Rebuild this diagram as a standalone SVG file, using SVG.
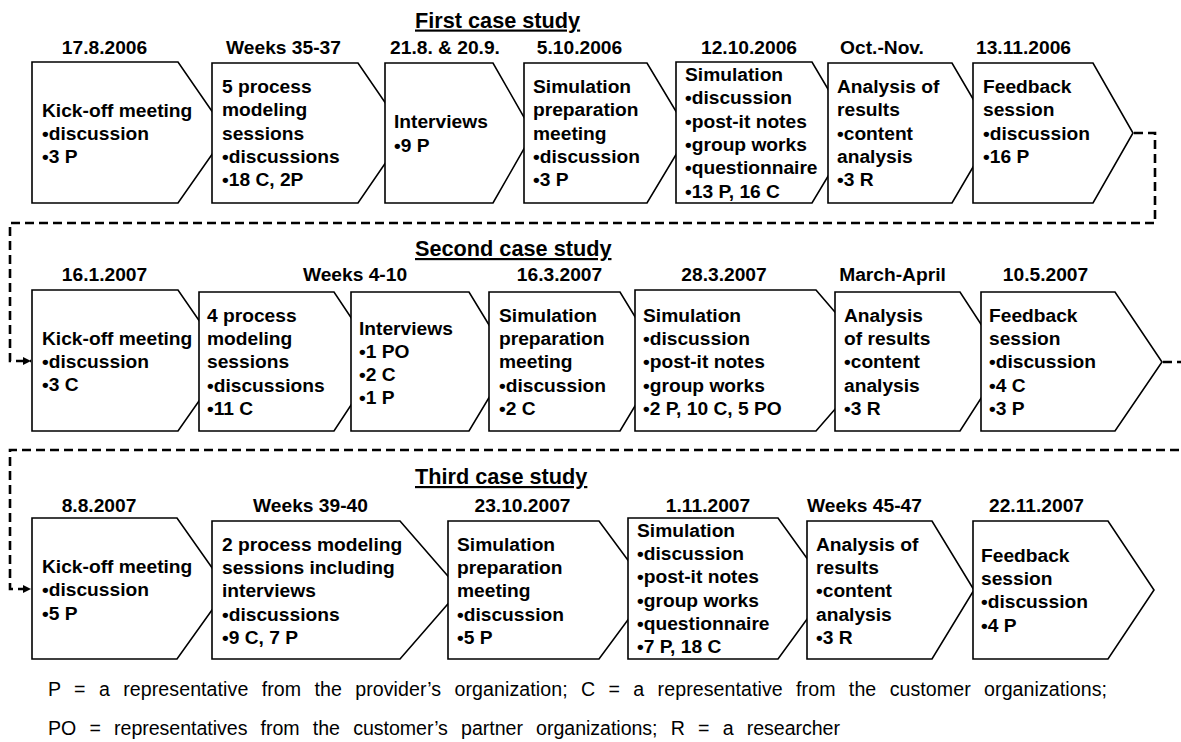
<svg xmlns="http://www.w3.org/2000/svg" width="1181" height="742" viewBox="0 0 1181 742">
<style>
  .box{fill:#fff;stroke:#000;stroke-width:1.6;stroke-linejoin:miter}
  text{font-family:"Liberation Sans",Arial,sans-serif;fill:#000}
  .t{font-size:19.2px;font-weight:bold}
  .d{font-size:19.2px;font-weight:bold;text-anchor:middle}
  .h{font-size:21.7px;font-weight:bold;text-decoration:underline}
  .lg{font-size:19.6px;word-spacing:7.8px}
  .dash{fill:none;stroke:#000;stroke-width:2.6;stroke-dasharray:9 5}
</style>
<defs>
  <marker id="arr" viewBox="0 0 10 10" refX="10" refY="5" markerWidth="3.2" markerHeight="3.2" orient="auto" markerUnits="strokeWidth">
    <path d="M0,0 L10,5 L0,10 z" fill="#000"/>
  </marker>
</defs>

<g id="titles">
  <text class="h" x="415" y="27.5">First case study</text>
  <text class="h" x="415" y="256">Second case study</text>
  <text class="h" x="415" y="484">Third case study</text>
</g>

<!-- Row 1 -->
<g id="c1-kickoff">
  <polygon class="box" points="32,62 178,62 227,133 178,203 32,203"/>
  <text class="d" x="104.5" y="54">17.8.2006</text>
  <text class="t"><tspan x="42" y="116.5">Kick-off meeting</tspan><tspan x="42" y="139.8">•discussion</tspan><tspan x="42" y="163">•3 P</tspan></text>
</g>
<g id="c1-modeling">
  <polygon class="box" points="212,63 358,63 406,133 358,203 212,203"/>
  <text class="d" x="283.5" y="54">Weeks 35-37</text>
  <text class="t"><tspan x="222" y="93">5 process</tspan><tspan x="222" y="116.3">modeling</tspan><tspan x="222" y="139.6">sessions</tspan><tspan x="222" y="162.9">•discussions</tspan><tspan x="222" y="186.2">•18 C, 2P</tspan></text>
</g>
<g id="c1-interviews">
  <polygon class="box" points="385,63 493,63 533,133 493,203 385,203"/>
  <text class="d" x="445" y="54">21.8. &amp; 20.9.</text>
  <text class="t"><tspan x="394" y="128.3">Interviews</tspan><tspan x="394" y="151.6">•9 P</tspan></text>
</g>
<g id="c1-prep">
  <polygon class="box" points="524,63 647,63 689,133 647,203 524,203"/>
  <text class="d" x="579.5" y="54">5.10.2006</text>
  <text class="t"><tspan x="533" y="93">Simulation</tspan><tspan x="533" y="116.3">preparation</tspan><tspan x="533" y="139.6">meeting</tspan><tspan x="533" y="162.9">•discussion</tspan><tspan x="533" y="186.2">•3 P</tspan></text>
</g>
<g id="c1-simulation">
  <polygon class="box" points="676,62 812,62 854,133 812,203 676,203"/>
  <text class="d" x="749" y="54">12.10.2006</text>
  <text class="t"><tspan x="685" y="81">Simulation</tspan><tspan x="685" y="104.3">•discussion</tspan><tspan x="685" y="127.6">•post-it notes</tspan><tspan x="685" y="150.9">•group works</tspan><tspan x="685" y="174.2">•questionnaire</tspan><tspan x="685" y="197.5">•13 P, 16 C</tspan></text>
</g>
<g id="c1-analysis">
  <polygon class="box" points="828,63 952,63 993,133 952,203 828,203"/>
  <text class="d" x="882" y="54">Oct.-Nov.</text>
  <text class="t"><tspan x="837" y="93">Analysis of</tspan><tspan x="837" y="116.3">results</tspan><tspan x="837" y="139.6">•content</tspan><tspan x="837" y="162.9">analysis</tspan><tspan x="837" y="186.2">•3 R</tspan></text>
</g>
<g id="c1-feedback">
  <polygon class="box" points="973,63 1093,63 1133,133 1093,203 973,203"/>
  <text class="d" x="1023.5" y="54">13.11.2006</text>
  <text class="t"><tspan x="983" y="93">Feedback</tspan><tspan x="983" y="116.3">session</tspan><tspan x="983" y="139.6">•discussion</tspan><tspan x="983" y="162.9">•16 P</tspan></text>
</g>

<!-- Row 2 -->
<g id="c2-kickoff">
  <polygon class="box" points="32,290 178,290 227,361 178,431 32,431"/>
  <text class="d" x="104.5" y="281">16.1.2007</text>
  <text class="t"><tspan x="42" y="344.5">Kick-off meeting</tspan><tspan x="42" y="367.8">•discussion</tspan><tspan x="42" y="391">•3 C</tspan></text>
</g>
<g id="c2-modeling">
  <polygon class="box" points="199,292 334,292 380,361 334,431 199,431"/>
  <text class="t"><tspan x="207" y="321.7">4 process</tspan><tspan x="207" y="345">modeling</tspan><tspan x="207" y="368.3">sessions</tspan><tspan x="207" y="391.6">•discussions</tspan><tspan x="207" y="414.9">•11 C</tspan></text>
</g>
<g id="c2-interviews">
  <polygon class="box" points="351,292 469,292 511,361 469,431 351,431"/>
  <text class="d" x="355" y="281">Weeks 4-10</text>
  <text class="t"><tspan x="359" y="334.5">Interviews</tspan><tspan x="359" y="357.8">•1 PO</tspan><tspan x="359" y="381">•2 C</tspan><tspan x="359" y="404.3">•1 P</tspan></text>
</g>
<g id="c2-prep">
  <polygon class="box" points="489,292 620,292 662,361 620,431 489,431"/>
  <text class="d" x="559.5" y="281">16.3.2007</text>
  <text class="t"><tspan x="499" y="321.7">Simulation</tspan><tspan x="499" y="345">preparation</tspan><tspan x="499" y="368.3">meeting</tspan><tspan x="499" y="391.6">•discussion</tspan><tspan x="499" y="414.9">•2 C</tspan></text>
</g>
<g id="c2-simulation">
  <polygon class="box" points="635,290 816,290 877,361 816,431 635,431"/>
  <text class="d" x="724" y="281">28.3.2007</text>
  <text class="t"><tspan x="643" y="321.7">Simulation</tspan><tspan x="643" y="345">•discussion</tspan><tspan x="643" y="368.3">•post-it notes</tspan><tspan x="643" y="391.6">•group works</tspan><tspan x="643" y="414.9">•2 P, 10 C, 5 PO</tspan></text>
</g>
<g id="c2-analysis">
  <polygon class="box" points="835,292 960,292 1005,361 960,431 835,431"/>
  <text class="d" x="892.5" y="281">March-April</text>
  <text class="t"><tspan x="844" y="321.7">Analysis</tspan><tspan x="844" y="345">of results</tspan><tspan x="844" y="368.3">•content</tspan><tspan x="844" y="391.6">analysis</tspan><tspan x="844" y="414.9">•3 R</tspan></text>
</g>
<g id="c2-feedback">
  <polygon class="box" points="981,292 1115,292 1162,362 1115,431 981,431"/>
  <text class="d" x="1045.5" y="281">10.5.2007</text>
  <text class="t"><tspan x="989" y="321.7">Feedback</tspan><tspan x="989" y="345">session</tspan><tspan x="989" y="368.3">•discussion</tspan><tspan x="989" y="391.6">•4 C</tspan><tspan x="989" y="414.9">•3 P</tspan></text>
</g>

<!-- Row 3 -->
<g id="c3-kickoff">
  <polygon class="box" points="32,518 177,518 227,589 177,659 32,659"/>
  <text class="d" x="99" y="512">8.8.2007</text>
  <text class="t"><tspan x="42" y="573">Kick-off meeting</tspan><tspan x="42" y="596.3">•discussion</tspan><tspan x="42" y="619.6">•5 P</tspan></text>
</g>
<g id="c3-modeling">
  <polygon class="box" points="212,521 400,521 460,590 400,659 212,659"/>
  <text class="d" x="310.5" y="512">Weeks 39-40</text>
  <text class="t"><tspan x="222" y="550.7">2 process modeling</tspan><tspan x="222" y="574">sessions including</tspan><tspan x="222" y="597.3">interviews</tspan><tspan x="222" y="620.6">•discussions</tspan><tspan x="222" y="643.9">•9 C, 7 P</tspan></text>
</g>
<g id="c3-prep">
  <polygon class="box" points="448,521 599,521 650,590 599,659 448,659"/>
  <text class="d" x="522.5" y="512">23.10.2007</text>
  <text class="t"><tspan x="457" y="550.7">Simulation</tspan><tspan x="457" y="574">preparation</tspan><tspan x="457" y="597.3">meeting</tspan><tspan x="457" y="620.6">•discussion</tspan><tspan x="457" y="643.9">•5 P</tspan></text>
</g>
<g id="c3-simulation">
  <polygon class="box" points="628,518 778,518 829,589 778,659 628,659"/>
  <text class="d" x="708" y="512">1.11.2007</text>
  <text class="t"><tspan x="637" y="536.7">Simulation</tspan><tspan x="637" y="560">•discussion</tspan><tspan x="637" y="583.3">•post-it notes</tspan><tspan x="637" y="606.6">•group works</tspan><tspan x="637" y="629.9">•questionnaire</tspan><tspan x="637" y="653.2">•7 P, 18 C</tspan></text>
</g>
<g id="c3-analysis">
  <polygon class="box" points="807,521 932,521 974,590 932,659 807,659"/>
  <text class="d" x="864.5" y="512">Weeks 45-47</text>
  <text class="t"><tspan x="816" y="550.7">Analysis of</tspan><tspan x="816" y="574">results</tspan><tspan x="816" y="597.3">•content</tspan><tspan x="816" y="620.6">analysis</tspan><tspan x="816" y="643.9">•3 R</tspan></text>
</g>
<g id="c3-feedback">
  <polygon class="box" points="973,521 1108,521 1154,590 1108,659 973,659"/>
  <text class="d" x="1036.5" y="512">22.11.2007</text>
  <text class="t"><tspan x="981" y="561.7">Feedback</tspan><tspan x="981" y="585">session</tspan><tspan x="981" y="608.3">•discussion</tspan><tspan x="981" y="631.6">•4 P</tspan></text>
</g>

<g id="connectors">
  <path class="dash" d="M1134,133 H1155 V223 H10 V361 H31" marker-end="url(#arr)"/>
  <path class="dash" d="M1163,362 H1190 V450 H10 V589 H31" marker-end="url(#arr)"/>
</g>

<g id="legend">
  <text class="lg" x="48" y="696" textLength="1059" lengthAdjust="spacing">P = a representative from the provider’s organization; C = a representative from the customer organizations;</text>
  <text class="lg" x="48" y="735" textLength="792" lengthAdjust="spacing">PO = representatives from the customer’s partner organizations; R = a researcher</text>
</g>
</svg>
